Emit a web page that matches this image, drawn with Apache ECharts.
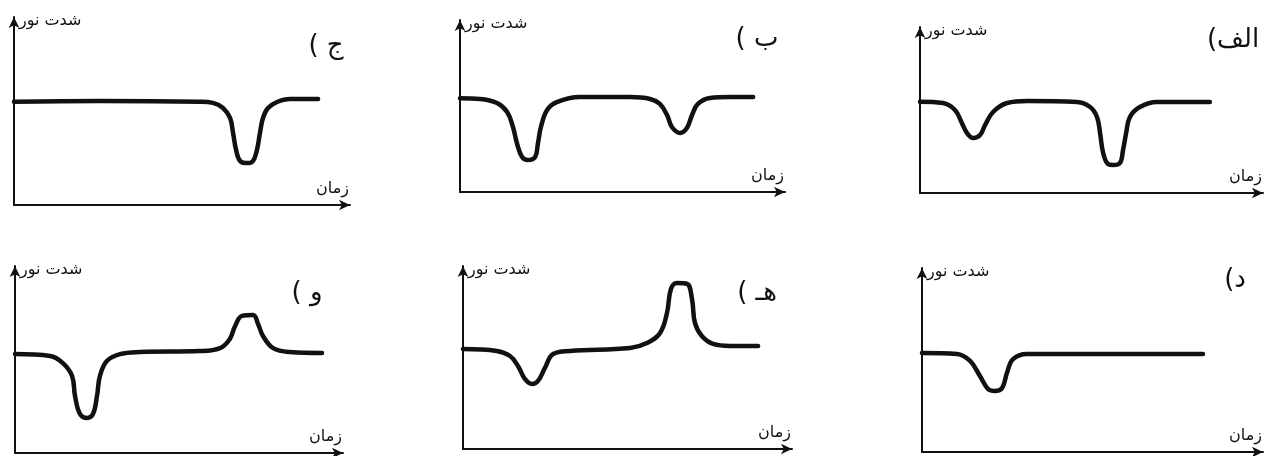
<!DOCTYPE html>
<html>
<head>
<meta charset="utf-8">
<script src="https://cdn.jsdelivr.net/npm/echarts@6.0.0/dist/echarts.min.js"></script>
<style>
html, body { margin: 0; padding: 0; background: #fff; }
#chart { width: 1279px; height: 456px; }
</style>
</head>
<body>
<div id="chart"></div>
<script>
// panel captions, in the order the panels are laid out (top row then bottom row, left to right)
var panelNames = ['ج )', 'ب )', 'الف)', 'و )', 'هـ )', 'د)'];
var yName = 'شدت نور';
var xName = 'زمان';

// [time, light intensity], both on a 0-100 scale of the axes
var curveJeem = [
  [0, 54.9], [25.6, 55.3], [55.4, 54.9], [59.2, 54.3], [62.2, 51.6], [64.3, 46.3],
  [65.2, 38.3], [66.1, 29.3], [67.3, 23.4], [69.3, 22.3], [71.1, 23.4], [72.3, 29.3],
  [73.2, 38.3], [74.1, 46.3], [75.6, 51.6], [78.3, 54.8], [82.1, 56.4], [90.5, 56.4]
];
var curveBe = [
  [0, 54.5], [6.2, 54.1], [11.4, 51.7], [14.5, 46.5], [16.3, 37.8], [17.5, 28.5],
  [19.1, 20.3], [20.9, 18.6], [23.1, 20.3], [24.0, 28.5], [24.9, 37.8], [26.8, 47.7],
  [29.8, 52.3], [36.9, 55.2], [52.3, 55.2], [58.5, 54.1], [61.5, 51.2], [63.7, 44.8],
  [65.2, 37.8], [67.7, 34.3], [69.8, 37.2], [71.4, 44.8], [73.2, 51.2], [76.9, 54.7],
  [83.1, 55.2], [90.2, 55.2]
];
var curveAlef = [
  [0, 55.0], [6.7, 54.2], [10.2, 50.0], [12.2, 42.2], [13.7, 36.1], [15.5, 33.1],
  [17.5, 34.9], [19.0, 41.0], [21.3, 48.8], [25.4, 54.2], [31.2, 55.4], [45.8, 54.8],
  [49.6, 51.8], [51.6, 45.8], [52.5, 36.1], [53.4, 24.1], [54.8, 17.5], [56.3, 16.9],
  [58.3, 18.1], [59.2, 25.9], [60.1, 36.1], [61.2, 45.8], [64.1, 51.8], [69.1, 54.8],
  [84.5, 54.8]
];
var curveVav = [
  [0, 52.9], [10.7, 51.9], [14.6, 48.1], [17.4, 41.2], [18.3, 30.5], [19.8, 20.9],
  [22.0, 18.7], [23.8, 20.9], [25.0, 30.5], [25.9, 41.2], [28.0, 49.2], [32.0, 52.9],
  [38.1, 54.0], [56.4, 54.5], [62.5, 56.1], [65.5, 61.0], [67.1, 67.9], [69.2, 73.3],
  [72.6, 73.8], [74.1, 69.0], [75.6, 62.6], [78.7, 56.1], [83.8, 54.0], [93.6, 53.5]
];
var curveHe = [
  [0, 54.6], [10.3, 53.6], [14.3, 50.8], [16.7, 45.4], [18.8, 38.3], [21.0, 35.5],
  [22.8, 37.2], [24.9, 44.3], [27.4, 51.9], [32.5, 53.6], [50.8, 55.2], [55.9, 57.9],
  [59.9, 63.4], [62.0, 74.3], [63.2, 87.4], [65.0, 90.7], [68.1, 90.2], [69.6, 82.0],
  [70.5, 68.9], [72.6, 61.7], [76.0, 57.4], [81.2, 56.3], [89.7, 56.3]
];
var curveDal = [
  [0, 53.8], [10.3, 53.3], [14.1, 49.5], [17.0, 41.3], [19.4, 34.2], [21.4, 33.2],
  [23.5, 34.8], [24.9, 42.9], [26.7, 50.5], [30.8, 53.3], [82.4, 53.3]
];
var curves = [curveJeem, curveBe, curveAlef, curveVav, curveHe, curveDal];

// layout: grid boxes [left, top, width, height] and caption centres, px
var boxes = [
  [14, 17, 336, 188], [460, 20, 325, 172], [920, 27, 343, 166],
  [15, 266, 328, 187], [463, 266, 329, 183], [922, 268, 341, 184]
];
var captionAt = [[326, 46], [757, 39], [1233, 40], [307, 293], [757, 293], [1235, 280]];

var ink = '#111';
var font = 'DejaVu Sans';

var myChart = echarts.init(document.getElementById('chart'), null, { renderer: 'canvas' });

var grids = [], xAxes = [], yAxes = [], series = [], graphics = [];
boxes.forEach(function (b, i) {
  grids.push({ left: b[0], top: b[1], width: b[2], height: b[3], outerBoundsMode: 'none' });
  var line = {
    onZero: false,
    symbol: ['none', 'arrow'],
    symbolSize: [8, 11],
    lineStyle: { color: ink, width: 2 }
  };
  xAxes.push({
    gridIndex: i, type: 'value', min: 0, max: 100,
    name: xName, nameLocation: 'end', nameGap: -1,
    nameTextStyle: { color: ink, fontFamily: font, fontSize: 16, align: 'right', verticalAlign: 'bottom', padding: [0, 0, 8, 0] },
    axisLine: line, axisTick: { show: false }, axisLabel: { show: false }, splitLine: { show: false }
  });
  yAxes.push({
    gridIndex: i, type: 'value', min: 0, max: 100,
    name: yName, nameLocation: 'end', nameGap: -4,
    nameTextStyle: { color: ink, fontFamily: font, fontSize: 16, align: 'left', verticalAlign: 'middle', padding: [0, 0, 0, 5] },
    axisLine: line, axisTick: { show: false }, axisLabel: { show: false }, splitLine: { show: false }
  });
  series.push({
    type: 'line', xAxisIndex: i, yAxisIndex: i,
    data: curves[i], smooth: 0.4, symbol: 'none', silent: true,
    lineStyle: { color: ink, width: 4.5, cap: 'round', join: 'round' }
  });
  graphics.push({
    type: 'text', x: captionAt[i][0], y: captionAt[i][1],
    style: {
      text: panelNames[i] + '\u200F', fill: ink,
      font: '26px "' + font + '"', align: 'center', verticalAlign: 'middle'
    }
  });
});

var option = {
  backgroundColor: '#fff',
  animation: false,
  grid: grids,
  xAxis: xAxes,
  yAxis: yAxes,
  series: series,
  graphic: graphics
};

myChart.setOption(option);
</script>
</body>
</html>
